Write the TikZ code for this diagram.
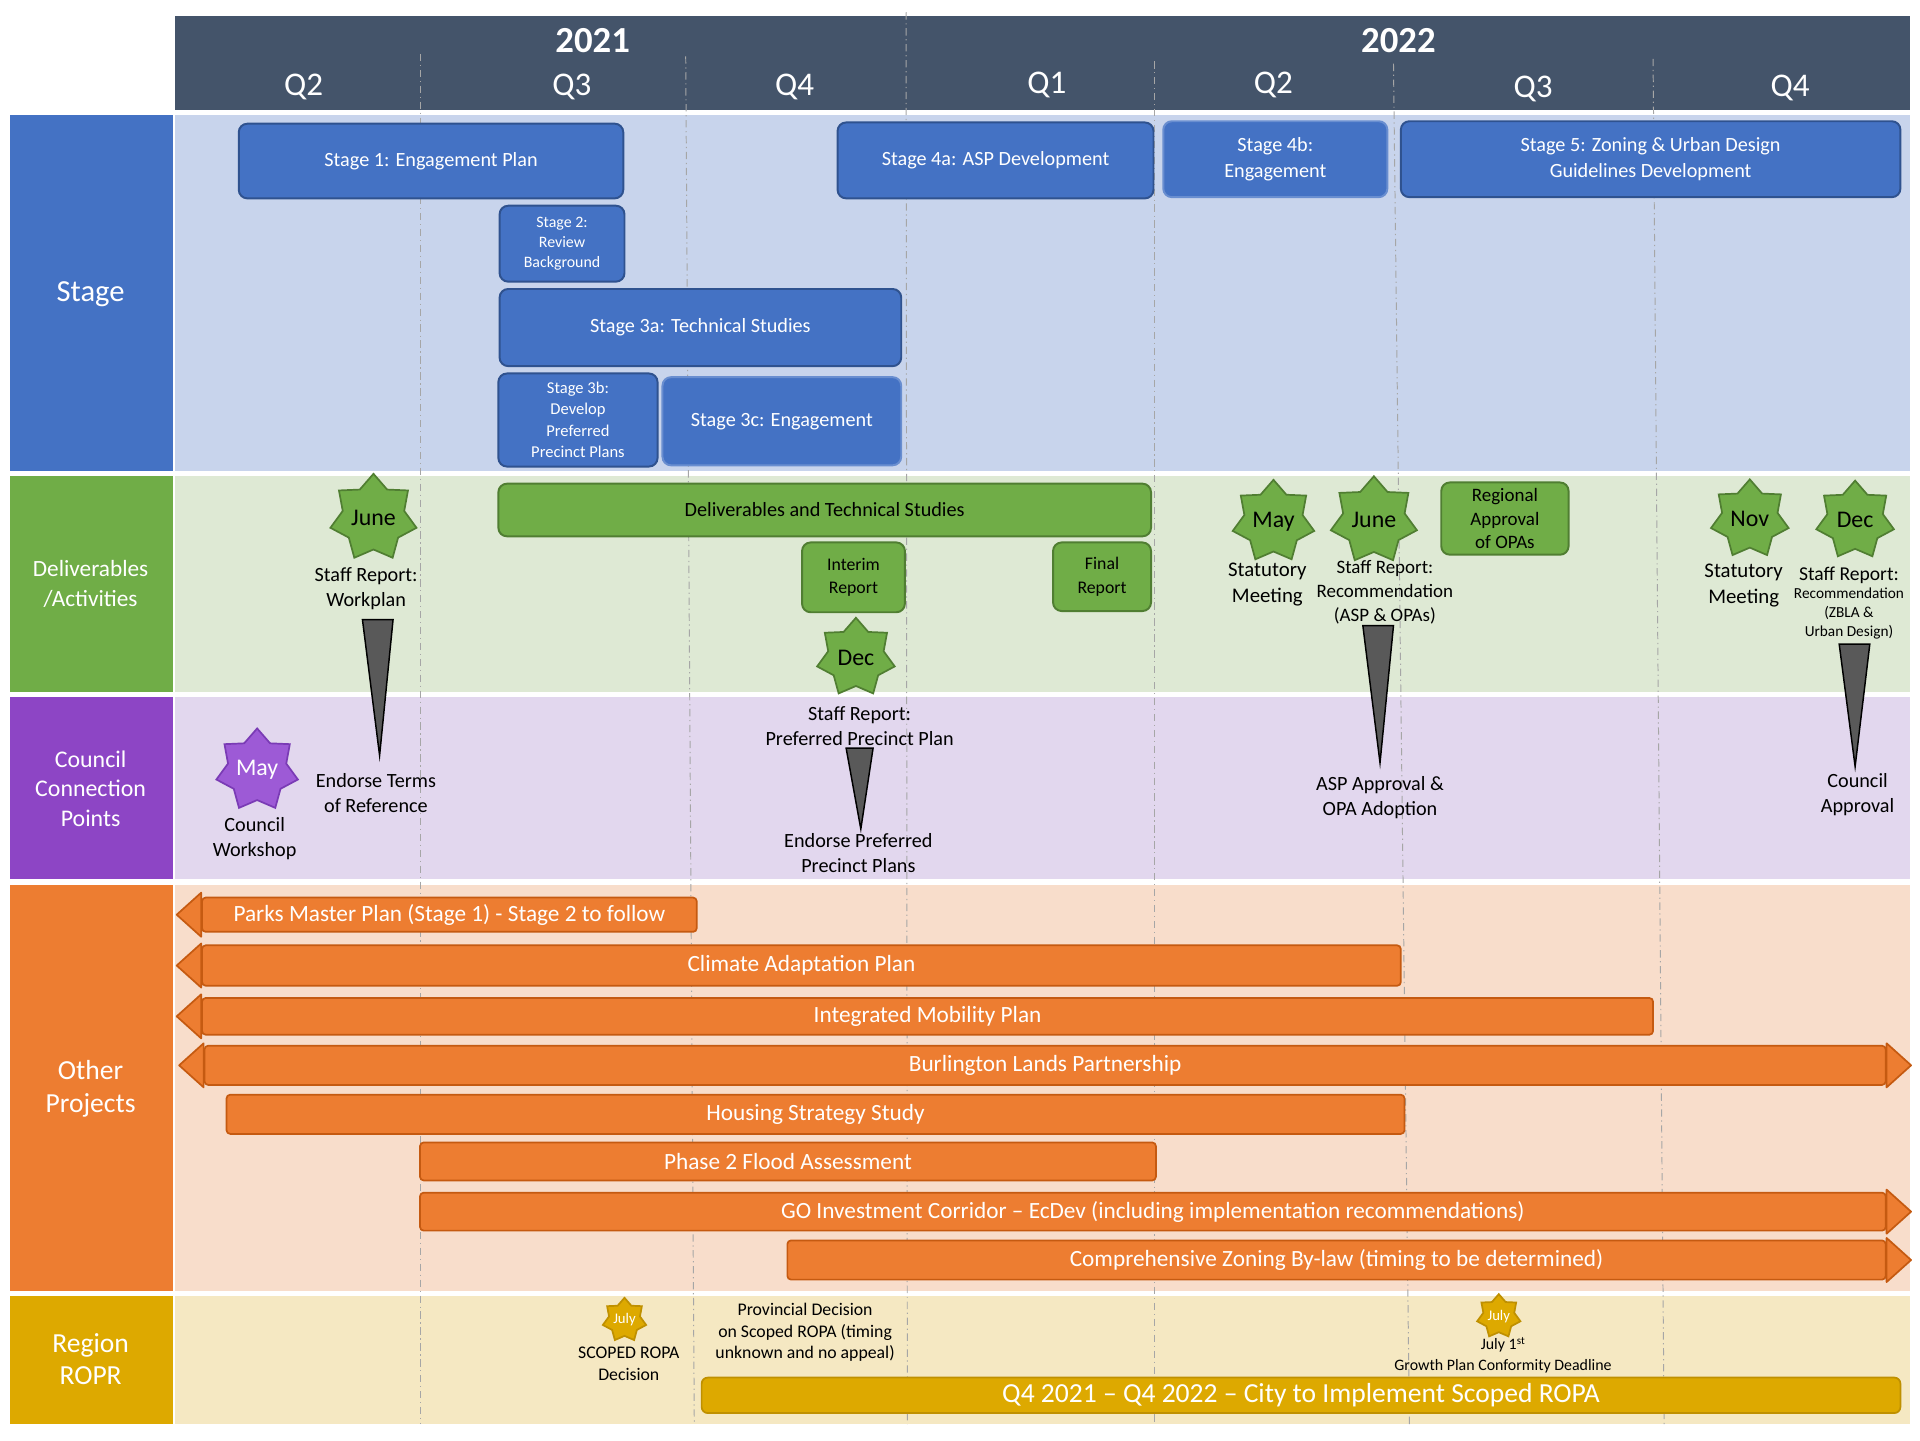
\documentclass[tikz,border=0pt]{standalone}
\usepackage{fontspec}
\setmainfont{Carlito}
\usepackage{xcolor}
\usepackage{tikz}
\usetikzlibrary{positioning,shapes.geometric,calc}
\definecolor{headslate}{HTML}{44546A}
\definecolor{stageblue}{HTML}{4472C4}
\definecolor{stageedge}{HTML}{2F528F}
\definecolor{stagebg}{HTML}{C8D4EC}
\definecolor{delgreen}{HTML}{70AD47}
\definecolor{deledge}{HTML}{507E32}
\definecolor{delbg}{HTML}{DEE9D4}
\definecolor{councilpurple}{HTML}{8D45C5}
\definecolor{starpurple}{HTML}{9D5AD6}
\definecolor{staredge}{HTML}{7A3BB5}
\definecolor{councilbg}{HTML}{E2D7EE}
\definecolor{projorange}{HTML}{ED7D31}
\definecolor{projedge}{HTML}{C55A11}
\definecolor{projbg}{HTML}{F8DDCB}
\definecolor{ropagold}{HTML}{DDA900}
\definecolor{goldedge}{HTML}{BF9000}
\definecolor{ropabg}{HTML}{F5E8C2}
\definecolor{wedgegray}{HTML}{595959}
\definecolor{qgray}{HTML}{A6A6A6}
\newcommand{\fsz}[2]{\fontsize{#1}{#2}\selectfont}
\tikzset{
    rowlabel/.style={
        text=white,
        align=center,
        inner sep=0pt
    },
    yearlabel/.style={
        text=white,
        font=\fsz{30}{34}\bfseries
    },
    qlabel/.style={
        text=white,
        font=\fsz{27}{30}
    },
    qline/.style={
        draw=qgray,
        line width=0.8pt,
        dash pattern=on 6pt off 3pt on 1pt off 3pt
    },
    stagebox/.style={
        rectangle,
        rounded corners=7pt,
        fill=stageblue,
        draw=stageedge,
        line width=1.6pt,
        text=white,
        align=center,
        inner sep=0pt,
        font=\fsz{16.5}{21}
    },
    delbox/.style={
        rectangle,
        rounded corners=7pt,
        fill=delgreen,
        draw=deledge,
        line width=1.6pt,
        text=black,
        align=center,
        inner sep=0pt,
        font=\fsz{14.5}{19}
    },
    milestar/.style={
        star,
        star points=7,
        star point ratio=1.4,
        minimum size=65pt,
        inner sep=0pt,
        fill=delgreen,
        draw=deledge,
        line width=1.4pt,
        font=\fsz{19.5}{20}
    },
    goldstar/.style={
        milestar,
        minimum size=36pt,
        fill=ropagold,
        draw=goldedge,
        text=white,
        font=\fsz{12}{12}
    },
    note/.style={
        align=center,
        text=black,
        inner sep=0pt,
        font=\fsz{16.5}{20.5}
    },
    projbar/.style={
        rectangle,
        rounded corners=3pt,
        fill=projorange,
        draw=projedge,
        line width=1.4pt,
        text=white,
        inner sep=0pt,
        font=\fsz{19}{22}
    },
    bartip/.style={
        fill=projorange,
        draw=projedge,
        line width=1.4pt,
        line join=round
    },
    wedge/.style={
        fill=wedgegray,
        draw=black,
        line width=1.2pt
    }
}

\begin{document}
\begin{tikzpicture}[x=1pt, y=-1pt]
\useasboundingbox (0,0) rectangle (1568,1176);

% rows
\fill [headslate] (143,13) rectangle (1560,90);
\fill [stageblue] (8,94) rectangle (141,385);
\fill [stagebg] (143,94) rectangle (1560,385);
\fill [delgreen] (8,389) rectangle (141,565);
\fill [delbg] (143,389) rectangle (1560,565);
\fill [councilpurple] (8,569) rectangle (141,718);
\fill [councilbg] (143,569) rectangle (1560,718);
\fill [projorange] (8,723) rectangle (141,1054);
\fill [projbg] (143,723) rectangle (1560,1054);
\fill [ropagold] (8,1058) rectangle (141,1163);
\fill [ropabg] (143,1058) rectangle (1560,1163);

% quarter lines
\foreach \xa/\ya/\xb in {343/44/343, 560/46/567, 740/10/741, 943/50/943, 1138/52/1151, 1350/48/1359}
    \draw [qline] (\xa,\ya) -- (\xb,1163);

% header
\node (year1) [yearlabel] at (484,33) {2021};
\node (year2) [yearlabel] at (1142,33) {2022};
\foreach \qx/\qy/\qn [count=\i] in {248/71/Q2, 467/71/Q3, 649/71/Q4, 855/69/Q1, 1040/69/Q2, 1252/73/Q3, 1462/72/Q4}
    \node (q\i) [qlabel] at (\qx,\qy) {\qn};

% row labels
\node (lstage) [rowlabel, font=\fsz{25}{30}] at (74,240) {Stage};
\node (ldeliv) [rowlabel, font=\fsz{19}{24}] at (74,477) {Deliverables\\/Activities};
\node (lcouncil) [rowlabel, font=\fsz{19.5}{24}] at (74,644) {Council\\Connection\\Points};
\node (lother) [rowlabel, font=\fsz{22.5}{26.5}] at (74,889) {Other\\Projects};
\node (lregion) [rowlabel, font=\fsz{22.5}{26.5}] at (74,1110) {Region\\ROPR};

% stages
\node (stage1) [stagebox, minimum width=314pt, minimum height=61pt] at (352,131.5) {Stage 1: Engagement Plan};
\node (stage4a) [stagebox, minimum width=258pt, minimum height=62pt] at (813,131) {Stage 4a: ASP Development};
\node (stage4b) [stagebox, draw=stageblue!80!white, minimum width=183pt, minimum height=62pt] at (1041.5,130) {Stage 4b:\\Engagement};
\node (stage5) [stagebox, minimum width=408pt, minimum height=62pt] at (1348,130) {Stage 5: Zoning \& Urban Design\\Guidelines Development};
\node (stage2) [stagebox, minimum width=102pt, minimum height=62pt, font=\fsz{13}{16}] at (459,199) {Stage 2:\\Review\\Background};
\node (stage3a) [stagebox, minimum width=328pt, minimum height=63pt] at (572,267.5) {Stage 3a: Technical Studies};
\node (stage3b) [stagebox, minimum width=130pt, minimum height=76pt, font=\fsz{13.5}{17.5}] at (472,343) {Stage 3b:\\Develop\\Preferred\\Precinct Plans};
\node (stage3c) [stagebox, draw=stageblue!80!white, minimum width=195pt, minimum height=72pt] at (638.5,344) {Stage 3c: Engagement};

% deliverables
\node (deltech) [delbox, minimum width=533pt, minimum height=43pt, font=\fsz{16.5}{20}] at (673.5,416.5) {Deliverables and Technical Studies};
\node (interim) [delbox, minimum width=84pt, minimum height=57pt] at (697,471.5) {Interim\\Report};
\node (final) [delbox, minimum width=80pt, minimum height=56pt] at (900,471) {Final\\Report};
\node (regapp) [delbox, minimum width=104pt, minimum height=59pt, font=\fsz{15.5}{19.5}] at (1229,423.5) {Regional\\Approval\\of OPAs};

\node (junestarA) [milestar] at (305,423) {June};
\node (decstarA) [milestar] at (699,537) {Dec};
\node (maystarB) [milestar] at (1040,426) {May};
\node (junestarB) [milestar] at (1122,425) {June};
\node (novstarB) [milestar] at (1429,424) {Nov};
\node (decstarB) [milestar] at (1515,425) {Dec};

\node (workplan) [note] at (299,481) {Staff Report:\\Workplan};
\node (statmeetA) [note, font=\fsz{17}{21}] at (1035,477.5) {Statutory\\Meeting};
\node (recA) [note, font=\fsz{15.5}{19.5}] at (1131,483.5) {Staff Report:\\Recommendation\\(ASP \& OPAs)};
\node (statmeetB) [note, font=\fsz{17}{21}] at (1424,478) {Statutory\\Meeting};
\node (recB) [note, font=\fsz{16}{18}] at (1510,470) {Staff Report:};
\node (recBsub) [note, font=\fsz{12.5}{15.5}, below=3pt of recB] {Recommendation\\(ZBLA \&\\Urban Design)};
\node (prefplan) [note] at (702,593) {Staff Report:\\Preferred Precinct Plan};

% council points
\node (maystarC) [milestar, fill=starpurple, draw=staredge, text=white] at (210,629) {May};
\node (workshop) [note] at (208,684.5) {Council\\Workshop};
\node (terms) [note] at (307,647.5) {Endorse Terms\\of Reference};
\node (endorse) [note] at (701,697) {Endorse Preferred\\Precinct Plans};
\node (aspopa) [note] at (1127,651.5) {ASP Approval \&\\OPA Adoption};
\node (approval) [note] at (1517,649) {Council\\Approval};

\draw [wedge] (296,506) -- (321,506) -- (310,617) -- cycle;
\draw [wedge] (691,611) -- (713,611) -- (703,677) -- cycle;
\draw [wedge] (1113,511) -- (1138,511) -- (1127,623) -- cycle;
\draw [wedge] (1502,526) -- (1527,526) -- (1515,626) -- cycle;

% other projects
\node (parks) [projbar, minimum width=404pt, minimum height=28pt] at (367,747) {Parks Master Plan (Stage 1) - Stage 2 to follow};
\node (climate) [projbar, minimum width=979pt, minimum height=33pt] at (654.5,788.5) {Climate Adaptation Plan};
\node (mobility) [projbar, minimum width=1185pt, minimum height=30pt] at (757.5,830) {Integrated Mobility Plan};
\node (burl) [projbar, minimum width=1373pt, minimum height=32pt] at (853.5,870) {Burlington Lands Partnership};
\node (housing) [projbar, minimum width=962pt, minimum height=32pt] at (666,910) {Housing Strategy Study};
\node (flood) [projbar, minimum width=601pt, minimum height=31pt] at (643.5,948.5) {Phase 2 Flood Assessment};
\node (goic) [projbar, minimum width=1197pt, minimum height=31pt] at (941.5,989.5) {GO Investment Corridor – EcDev (including implementation recommendations)};
\node (zbl) [projbar, minimum width=897pt, minimum height=32pt] at (1091.5,1029) {Comprehensive Zoning By-law (timing to be determined)};

\foreach \b in {parks,climate,mobility,burl}
    \draw [bartip] (\b.west) ++(0,-18) -- ++(-20,18) -- ++(20,18) -- cycle;
\foreach \b in {burl,goic,zbl}
    \draw [bartip] (\b.east) ++(0,-18) -- ++(20,18) -- ++(-20,18) -- cycle;

% region ROPR
\node (julystarA) [goldstar] at (510,1078) {July};
\node (scoped) [note, font=\fsz{14.5}{18}] at (513.5,1114) {SCOPED ROPA\\Decision};
\node (provincial) [note, font=\fsz{14.5}{17.5}] at (657.5,1088) {Provincial Decision\\on Scoped ROPA (timing\\unknown and no appeal)};
\node (julystarB) [goldstar] at (1224,1075) {July};
\node (growth) [note, font=\fsz{13}{17}] at (1227.5,1106.5) {July 1\textsuperscript{st}\\Growth Plan Conformity Deadline};
\node (implement) [rectangle, rounded corners=5pt, fill=ropagold, draw=goldedge, line width=1.4pt, text=white, font=\fsz{22.5}{25}, minimum width=979pt, minimum height=29pt, inner sep=0pt] at (1062.5,1139.5) {Q4 2021 – Q4 2022 – City to Implement Scoped ROPA};
\end{tikzpicture}
\end{document}
